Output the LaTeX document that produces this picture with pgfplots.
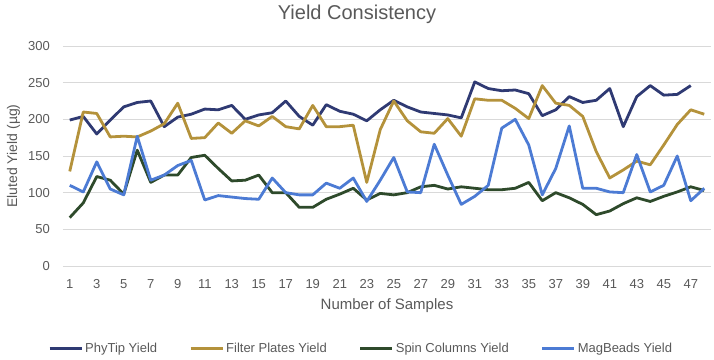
\documentclass[border=0pt]{standalone}
\usepackage{pgfplots}
\usepackage{pgfplotstable}
\pgfplotsset{compat=1.18}
\usepackage{fontspec}
\setmainfont{Liberation Sans}
\definecolor{phy}{HTML}{2F3A73}
\definecolor{filt}{HTML}{B4923B}
\definecolor{spin}{HTML}{2E4A2B}
\definecolor{mag}{HTML}{4C7BD4}
\definecolor{txt}{HTML}{595959}
\definecolor{grd}{HTML}{D9D9D9}
\pgfplotstableread{
x phy filt spin mag
1 199 129 66 110
2 204 210 86 101
3 180 208 122 142
4 199 176 117 105
5 217 177 98 97
6 223 176 158 177
7 225 184 114 117
8 190 194 124 124
9 203 222 124 137
10 207 174 148 144
11 214 175 151 90
12 213 195 133 96
13 219 181 116 94
14 200 198 117 92
15 206 191 124 91
16 209 204 100 120
17 225 190 100 100
18 204 187 80 97
19 192 219 80 97
20 220 190 91 113
21 211 190 98 106
22 207 192 106 120
23 198 114 90 88
24 213 186 99 117
25 226 225 97 148
26 217 198 100 101
27 210 183 108 100
28 208 181 110 166
29 206 201 105 124
30 202 177 108 84
31 251 228 106 95
32 242 226 104 110
33 239 226 104 188
34 240 215 106 200
35 235 201 114 165
36 205 246 89 97
37 213 222 100 133
38 231 219 93 191
39 223 204 84 106
40 226 156 70 106
41 242 120 75 101
42 190 131 85 100
43 231 143 93 152
44 246 138 88 101
45 233 165 95 110
46 234 193 101 150
47 246 213 108 89
48 nan 207 103 106
}\datatable
\begin{document}
\begin{tikzpicture}
\useasboundingbox (0,0) rectangle (714pt,359pt);
\begin{axis}[
  at={(63pt,93pt)}, anchor=south west,
  scale only axis, width=648pt, height=220pt,
  xmin=0.5, xmax=48.5, ymin=0, ymax=300,
  xtick={1,3,...,47}, ytick={0,50,...,300},
  ymajorgrids, grid style={grd, line width=0.8pt},
  axis line style={draw=none}, tick style={draw=none},
  /pgf/number format/assume math mode=true,
  ticklabel style={font=\fontsize{13}{15}\selectfont, text=txt},
  yticklabel style={anchor=east, inner sep=0pt, xshift=-13pt},
  xticklabel style={anchor=north, inner sep=0pt, yshift=-13pt},
  xlabel={Number of Samples},
  ylabel={Eluted Yield (µg)},
  every axis x label/.style={at={(axis description cs:0.5,-0.1818)}, anchor=center, font=\fontsize{15}{18}\selectfont, text=txt},
  every axis y label/.style={at={(axis description cs:-0.0764,0.5)}, anchor=center, rotate=90, font=\fontsize{14}{17}\selectfont, text=txt},
  title={Yield Consistency},
  every axis title/.style={at={(axis description cs:0.4537,1.1455)}, anchor=center, font=\fontsize{20}{24}\selectfont, text=txt},
  legend columns=4,
  legend style={at={(axis description cs:0.46,-0.377)}, anchor=center, draw=none, fill=none,
    font=\fontsize{13}{15}\selectfont, text=txt, /tikz/every even column/.append style={column sep=30pt}},
  legend image code/.code={\draw[#1, line width=3pt] (0pt,0pt) -- (32pt,0pt);},
  every axis plot/.append style={line width=2.8pt, line join=round, no marks},
  clip=false,
]
\addplot[phy] table[x=x, y=phy] {\datatable};
\addplot[filt] table[x=x, y=filt] {\datatable};
\addplot[spin] table[x=x, y=spin] {\datatable};
\addplot[mag] table[x=x, y=mag] {\datatable};
\legend{PhyTip Yield, Filter Plates Yield, Spin Columns Yield, MagBeads Yield}
\end{axis}
\end{tikzpicture}
\end{document}
